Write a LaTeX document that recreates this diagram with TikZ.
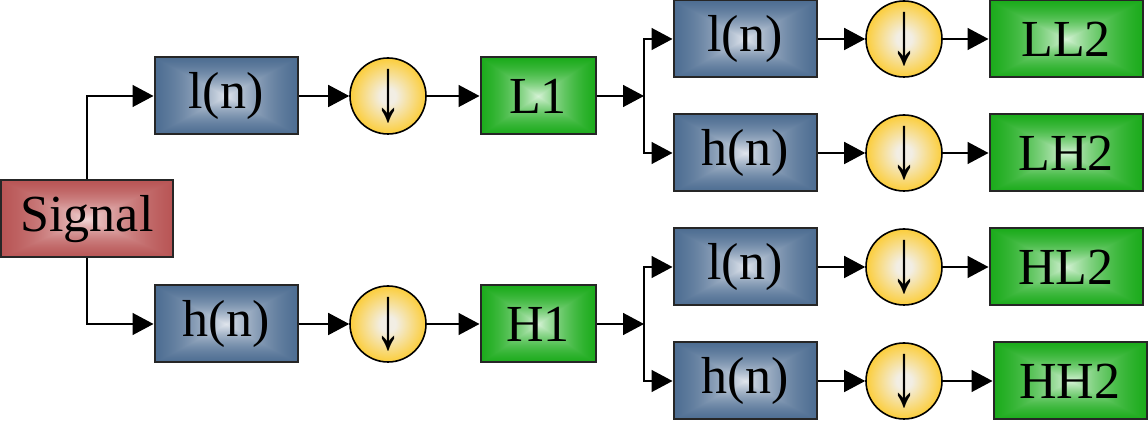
\documentclass[tikz,border=0pt]{standalone}
\usepackage{fontspec}
\setmainfont{Liberation Serif}
\usetikzlibrary{arrows.meta,positioning}

% rectangular "pyramid" shadings: centre colour -> edge colour
% s = 1-(1-t)^3 , colour = centre + s*(edge-centre)
\pgfdeclarefunctionalshading{blueshade}{\pgfpoint{-50bp}{-50bp}}{\pgfpoint{50bp}{50bp}}{}{%
  abs exch abs 2 copy lt {exch} if pop 50 div 1 exch sub dup dup mul mul 1 exch sub
  dup -0.66 mul 0.88 add exch dup -0.54 mul 0.90 add exch -0.41 mul 0.93 add}
\pgfdeclarefunctionalshading{greenshade}{\pgfpoint{-50bp}{-50bp}}{\pgfpoint{50bp}{50bp}}{}{%
  abs exch abs 2 copy lt {exch} if pop 50 div 1 exch sub dup dup mul mul 1 exch sub
  dup -0.84 mul 0.84 add exch dup -0.32 mul 0.95 add exch -0.84 mul 0.84 add}
\pgfdeclarefunctionalshading{redshade}{\pgfpoint{-50bp}{-50bp}}{\pgfpoint{50bp}{50bp}}{}{%
  abs exch abs 2 copy lt {exch} if pop 50 div 1 exch sub dup dup mul mul 1 exch sub
  dup -0.26 mul 0.95 add exch dup -0.58 mul 0.84 add exch -0.58 mul 0.84 add}
\definecolor{ycenter}{RGB}{242,238,228}
\definecolor{yedge}{RGB}{255,194,0}
\pgfdeclareradialshading{yelshade}{\pgfpoint{0bp}{0bp}}{%
  color(0bp)=(ycenter); color(5bp)=(ycenter); color(32bp)=(yedge); color(50bp)=(yedge)}

\newcommand{\dnarrow}{\scalebox{1}[1.75]{↓}}

\tikzset{
  box/.style={draw=black!85, line width=1pt, rectangle, minimum height=38.5pt,
    inner sep=0pt, font=\rmfamily\fontsize{26}{26}\selectfont},
  filt/.style={box, shading=blueshade, minimum width=71.5pt},
  res1/.style={box, shading=greenshade, minimum width=57.5pt},
  res2/.style={box, shading=greenshade, minimum width=76.5pt},
  src/.style={box, shading=redshade, minimum width=86pt},
  down/.style={circle, draw=black, line width=0.8pt, shading=yelshade,
    minimum size=38pt, inner sep=0pt, font=\rmfamily\fontsize{26}{26}\selectfont},
  arr/.style={line width=0.75pt, -{Triangle[length=10.5pt,width=11pt]}},
}

\begin{document}
\begin{tikzpicture}[x=0.5pt,y=-0.5pt]
\useasboundingbox (0,0) rectangle (1148,421);

\node[src] (sig) at (87,219) {Signal};

% level 1
\node[filt] (l1) at (226,96) {l(n)};
\node[down] (d1) at (388,96) {\dnarrow};
\node[res1] (L1) at (538,96) {L1};
\node[filt] (h1) at (226,324) {h(n)};
\node[down] (d2) at (388,324) {\dnarrow};
\node[res1] (H1) at (538,324) {H1};

\coordinate (sp1) at (644,96);
\coordinate (sp2) at (644,324);

% level 2
\node[filt] (ll) at (745,39) {l(n)};
\node[down] (dll) at (904,39) {\dnarrow};
\node[res2] (LL2) at (1066,39) {LL2};
\node[filt] (lh) at (745,153) {h(n)};
\node[down] (dlh) at (904,153) {\dnarrow};
\node[res2] (LH2) at (1066,153) {LH2};
\node[filt] (hl) at (745,267) {l(n)};
\node[down] (dhl) at (904,267) {\dnarrow};
\node[res2] (HL2) at (1066,267) {HL2};
\node[filt] (hh) at (745,381) {h(n)};
\node[down] (dhh) at (904,381) {\dnarrow};
\node[res2] (HH2) at (1070,381) {HH2};

% connectors
\draw[arr] (sig.north) |- (l1.west);
\draw[arr] (sig.south) |- (h1.west);
\draw[arr] (l1) -- (d1);
\draw[arr] (d1) -- (L1);
\draw[arr] (h1) -- (d2);
\draw[arr] (d2) -- (H1);
\draw[arr] (L1.east) -- (sp1);
\draw[arr] (H1.east) -- (sp2);
\draw[arr] (sp1) |- (ll.west);
\draw[arr] (sp1) |- (lh.west);
\draw[arr] (sp2) |- (hl.west);
\draw[arr] (sp2) |- (hh.west);
\draw[arr] (ll) -- (dll);
\draw[arr] (dll) -- (LL2);
\draw[arr] (lh) -- (dlh);
\draw[arr] (dlh) -- (LH2);
\draw[arr] (hl) -- (dhl);
\draw[arr] (dhl) -- (HL2);
\draw[arr] (hh) -- (dhh);
\draw[arr] (dhh) -- (HH2);
\end{tikzpicture}
\end{document}
